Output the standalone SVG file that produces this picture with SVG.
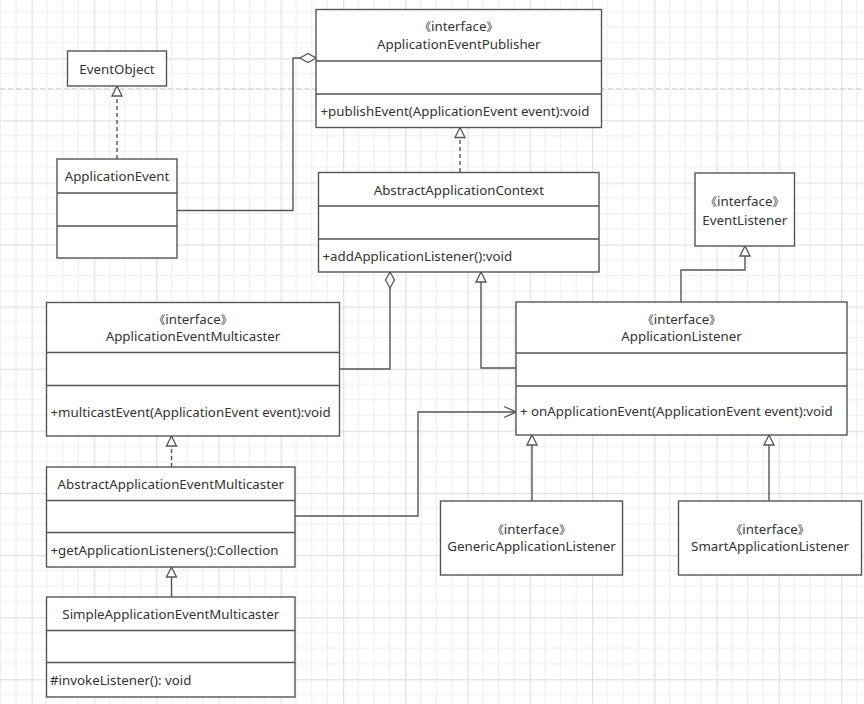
<svg xmlns="http://www.w3.org/2000/svg" width="864" height="704" viewBox="0 0 864 704">
<style>
.box{fill:#fff;stroke:#555;stroke-width:1.4}
.div{stroke:#555;stroke-width:1.4}
.t{font-family:"Noto Sans","Noto Sans CJK SC",sans-serif;font-size:13.3px;fill:#333}
.c{text-anchor:middle}
.b{font-size:11.5px}
.con{fill:none;stroke:#555;stroke-width:1.4}
.dash{stroke-dasharray:4,3}
</style>
<defs>
<pattern id="grid" patternUnits="userSpaceOnUse" x="31.6" y="-3.9" width="62.26" height="62.1">
<path d="M15.565,0V62.1M31.13,0V62.1M46.695,0V62.1M0,15.525H62.26M0,31.05H62.26M0,46.575H62.26" stroke="#efefef" stroke-width="1.2" fill="none"/>
<path d="M0.6,0V62.1M0,0.6H62.26" stroke="#e2e2e2" stroke-width="1.4" fill="none"/>
</pattern>
<marker id="tri" markerUnits="userSpaceOnUse" markerWidth="12" markerHeight="12" refX="10" refY="5" orient="auto" overflow="visible">
<path d="M0,0L10,5L0,10Z" fill="#fff" stroke="#555" stroke-width="1.3" stroke-dasharray="none"/>
</marker>
<marker id="dia" markerUnits="userSpaceOnUse" markerWidth="18" markerHeight="12" refX="16" refY="4.5" orient="auto" overflow="visible">
<path d="M0,4.5L8,0L16,4.5L8,9Z" fill="#fff" stroke="#555" stroke-width="1.3"/>
</marker>
<marker id="open" markerUnits="userSpaceOnUse" markerWidth="14" markerHeight="14" refX="12" refY="5.5" orient="auto" overflow="visible">
<path d="M0,0L12,5.5L0,11" fill="none" stroke="#555" stroke-width="1.3"/>
</marker>
</defs>
<rect width="864" height="704" fill="#fff"/>
<rect width="864" height="704" fill="url(#grid)"/>
<line x1="0" y1="89" x2="864" y2="89" stroke="#c8c8c8" stroke-width="1.2" stroke-dasharray="5,3"/>

<g id="connectors">
<path class="con dash" d="M117,159V86" marker-end="url(#tri)"/>
<path class="con" d="M177,210.5H293V58H316" marker-end="url(#dia)"/>
<path class="con dash" d="M460,172V127.5" marker-end="url(#tri)"/>
<path class="con" d="M339.5,369H390V272" marker-end="url(#dia)"/>
<path class="con" d="M516,368H481V272" marker-end="url(#tri)"/>
<path class="con" d="M681,302V270H745V246" marker-end="url(#tri)"/>
<path class="con dash" d="M171.5,467V436" marker-end="url(#tri)"/>
<path class="con" d="M171.5,597V567" marker-end="url(#tri)"/>
<path class="con" d="M295,516H418V412H516" marker-end="url(#open)"/>
<path class="con" d="M532,501V435" marker-end="url(#tri)"/>
<path class="con" d="M769,501V435" marker-end="url(#tri)"/>
</g>

<g id="EventObject">
<rect class="box" x="67.5" y="51" width="99" height="35"/>
<text class="t c" x="117" y="73.5">EventObject</text>
</g>

<g id="ApplicationEvent">
<rect class="box" x="57" y="159" width="120" height="99"/>
<line class="div" x1="57" y1="193" x2="177" y2="193"/>
<line class="div" x1="57" y1="226" x2="177" y2="226"/>
<text class="t c" x="117" y="181">ApplicationEvent</text>
</g>

<g id="ApplicationEventPublisher">
<rect class="box" x="316" y="9.5" width="285.5" height="118"/>
<line class="div" x1="316" y1="61" x2="601.5" y2="61"/>
<line class="div" x1="316" y1="94" x2="601.5" y2="94"/>
<text class="t c" x="458.8" y="31"><tspan class="b">《</tspan>interface<tspan class="b">》</tspan></text>
<text class="t c" x="458.8" y="48.5">ApplicationEventPublisher</text>
<text class="t" x="320.5" y="115.5">+publishEvent(ApplicationEvent event):void</text>
</g>

<g id="AbstractApplicationContext">
<rect class="box" x="318.5" y="172.5" width="280.5" height="99.5"/>
<line class="div" x1="318.5" y1="206" x2="599" y2="206"/>
<line class="div" x1="318.5" y1="239" x2="599" y2="239"/>
<text class="t c" x="458.8" y="195">AbstractApplicationContext</text>
<text class="t" x="322.5" y="261">+addApplicationListener():void</text>
</g>

<g id="EventListener">
<rect class="box" x="695" y="173" width="99.5" height="73"/>
<text class="t c" x="744.8" y="206"><tspan class="b">《</tspan>interface<tspan class="b">》</tspan></text>
<text class="t c" x="744.8" y="224.5">EventListener</text>
</g>

<g id="ApplicationListener">
<rect class="box" x="516" y="302" width="331" height="133"/>
<line class="div" x1="516" y1="353" x2="847" y2="353"/>
<line class="div" x1="516" y1="386" x2="847" y2="386"/>
<text class="t c" x="681.5" y="324"><tspan class="b">《</tspan>interface<tspan class="b">》</tspan></text>
<text class="t c" x="681.5" y="341">ApplicationListener</text>
<text class="t" x="520" y="416">+ onApplicationEvent(ApplicationEvent event):void</text>
</g>

<g id="ApplicationEventMulticaster">
<rect class="box" x="46.5" y="302.5" width="293" height="133.5"/>
<line class="div" x1="46.5" y1="352.5" x2="339.5" y2="352.5"/>
<line class="div" x1="46.5" y1="385.5" x2="339.5" y2="385.5"/>
<text class="t c" x="193" y="324"><tspan class="b">《</tspan>interface<tspan class="b">》</tspan></text>
<text class="t c" x="193" y="341">ApplicationEventMulticaster</text>
<text class="t" x="50.5" y="416.5">+multicastEvent(ApplicationEvent event):void</text>
</g>

<g id="AbstractApplicationEventMulticaster">
<rect class="box" x="46.5" y="467" width="248.5" height="100"/>
<line class="div" x1="46.5" y1="500.5" x2="295" y2="500.5"/>
<line class="div" x1="46.5" y1="532.5" x2="295" y2="532.5"/>
<text class="t c" x="170.8" y="488.5">AbstractApplicationEventMulticaster</text>
<text class="t" x="50.5" y="555">+getApplicationListeners():Collection</text>
</g>

<g id="SimpleApplicationEventMulticaster">
<rect class="box" x="46.5" y="597" width="248.5" height="100"/>
<line class="div" x1="46.5" y1="630.5" x2="295" y2="630.5"/>
<line class="div" x1="46.5" y1="662.5" x2="295" y2="662.5"/>
<text class="t c" x="170.8" y="618.5">SimpleApplicationEventMulticaster</text>
<text class="t" x="50" y="685">#invokeListener(): void</text>
</g>

<g id="GenericApplicationListener">
<rect class="box" x="440.5" y="501" width="182" height="74"/>
<text class="t c" x="531.5" y="534"><tspan class="b">《</tspan>interface<tspan class="b">》</tspan></text>
<text class="t c" x="531.5" y="551">GenericApplicationListener</text>
</g>

<g id="SmartApplicationListener">
<rect class="box" x="678.5" y="501" width="183" height="74"/>
<text class="t c" x="770" y="534"><tspan class="b">《</tspan>interface<tspan class="b">》</tspan></text>
<text class="t c" x="770" y="551">SmartApplicationListener</text>
</g>
</svg>
